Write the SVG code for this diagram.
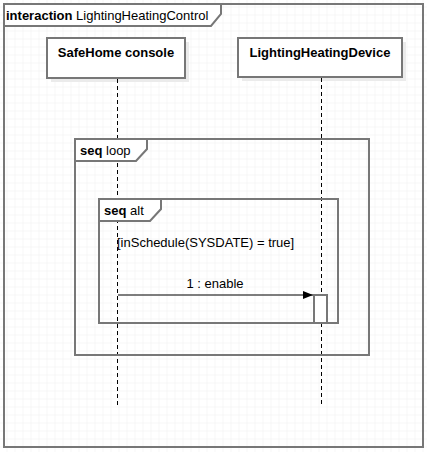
<svg xmlns="http://www.w3.org/2000/svg" width="427" height="452" viewBox="0 0 427 452">
<defs>
<pattern id="grid" width="8" height="8" patternUnits="userSpaceOnUse" x="-0.5" y="-0.5">
<path d="M8 0V8M0 8H8" fill="none" stroke="#eeeeee" stroke-width="1"/>
</pattern>
<marker id="arr" markerWidth="10" markerHeight="8" refX="10" refY="4" orient="auto" markerUnits="userSpaceOnUse">
<path d="M0 0L10 4L0 8Z" fill="#000"/>
</marker>
<style>
.frame{fill:none;stroke:#777;stroke-width:2}
.tab{fill:#fff;stroke:#777;stroke-width:2}
.box{fill:#fff;stroke:#777;stroke-width:2}
.shadow{fill:#ebebeb}
.life{stroke:#000;stroke-width:1;stroke-dasharray:4 3}
.t{font-family:"Liberation Sans",Arial,sans-serif;font-size:13px;fill:#000}
.b{font-weight:bold}
.lbl{font-family:"Liberation Sans",Arial,sans-serif;font-size:13px;font-weight:bold;fill:#000}
</style>
</defs>
<rect width="427" height="452" fill="#fff"/>
<rect width="427" height="452" fill="url(#grid)"/>
<g id="frame-main">
<rect class="frame" x="4" y="4" width="419" height="443"/>
<path class="tab" d="M4 4H221V14L211 26H4Z"/>
<text class="t" x="6" y="20"><tspan class="b">interaction</tspan> LightingHeatingControl</text>
</g>
<g id="lifeline-console">
<rect class="shadow" x="51" y="42" width="138" height="40"/>
<rect class="box" x="47" y="38" width="138" height="40"/>
<text class="lbl" x="116" y="57" text-anchor="middle">SafeHome console</text>
<line class="life" x1="117.5" y1="79" x2="117.5" y2="406"/>
</g>
<g id="lifeline-device">
<rect class="shadow" x="242" y="42" width="164" height="39"/>
<rect class="box" x="238" y="38" width="164" height="39"/>
<text class="lbl" x="320" y="57" text-anchor="middle">LightingHeatingDevice</text>
<line class="life" x1="321.5" y1="78" x2="321.5" y2="406"/>
</g>
<g id="frame-loop">
<rect class="frame" x="75" y="139" width="294" height="216"/>
<path class="tab" d="M75 139H147V149L136 161H75Z"/>
<text class="t" x="80" y="155"><tspan class="b">seq</tspan> loop</text>
</g>
<g id="frame-alt">
<rect class="frame" x="99" y="199" width="239" height="124"/>
<path class="tab" d="M99 199H161V209L150 221H99Z"/>
<text class="t" x="104" y="215"><tspan class="b">seq</tspan> alt</text>
<text class="t" x="117" y="247">[inSchedule(SYSDATE) = true]</text>
</g>
<g id="activation-device">
<rect class="box" x="314" y="295" width="13" height="28"/>
</g>
<g id="connectors">
<line x1="118" y1="295" x2="313" y2="295" stroke="#000" stroke-width="1" marker-end="url(#arr)"/>
<text class="t" x="215" y="288" text-anchor="middle">1 : enable</text>
</g>
</svg>
